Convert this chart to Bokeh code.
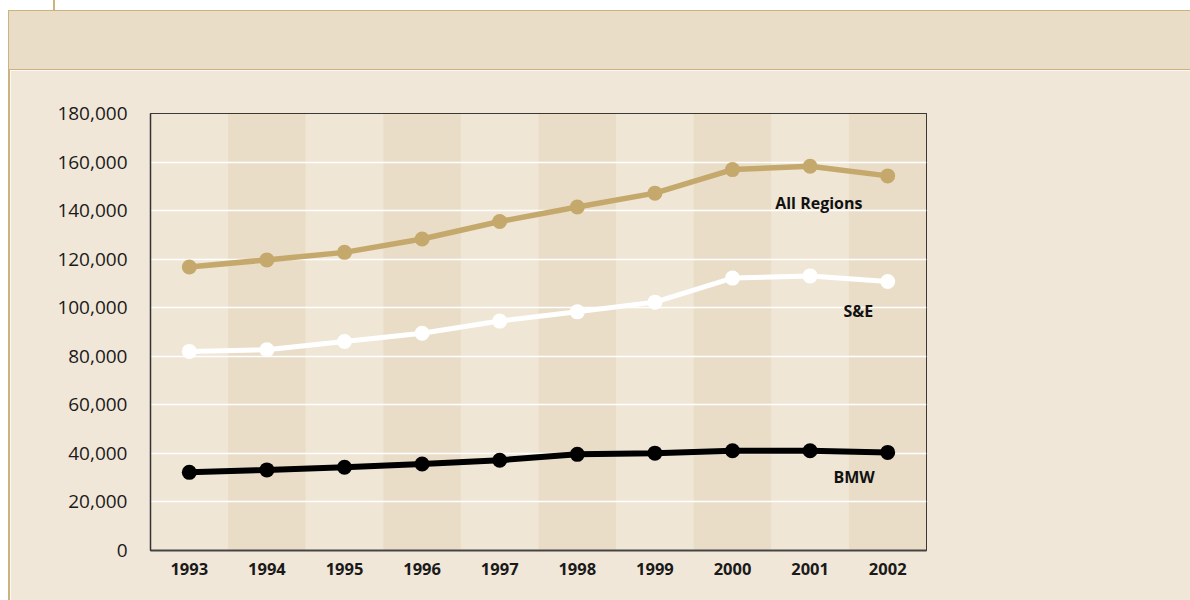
from bokeh.plotting import figure
from bokeh.models import Div, FixedTicker, NumeralTickFormatter, Range1d
from bokeh.layouts import column, row
from bokeh.core.properties import value
from bokeh.embed import file_html
from bokeh.resources import INLINE

years = [1993, 1994, 1995, 1996, 1997, 1998, 1999, 2000, 2001, 2002]
all_regions = [116800, 119700, 122800, 128300, 135500, 141500, 147200, 156900, 158300, 154300]
s_and_e = [82000, 82700, 86100, 89500, 94500, 98300, 102300, 112200, 113100, 110800]
bmw = [32200, 33200, 34300, 35600, 37200, 39600, 40100, 41100, 41100, 40400]
y_ticks = [0, 20000, 40000, 60000, 80000, 100000, 120000, 140000, 160000, 180000]
series_names = ["All Regions", "S&E", "BMW"]

PAGE_BG = "#F1E7D8"
HEADER_BG = "#EADDC8"
BORDER = "#CBB27E"
LIGHT = "#F0E6D6"
DARK = "#EADDC8"
TAN = "#C5A96C"

p = figure(width=1180, height=530, output_backend="svg", toolbar_location=None,
           x_range=Range1d(1992.5, 2002.5), y_range=Range1d(0, 180000),
           min_border_left=140, min_border_right=264, min_border_top=43, min_border_bottom=50,
           margin=0)
p.border_fill_color = PAGE_BG
p.background_fill_color = LIGHT
p.outline_line_color = "black"
p.outline_line_width = 1

# alternating column bands
band_colors = [LIGHT if i % 2 == 0 else DARK for i in range(len(years))]
p.vbar(x=years, top=[180000] * len(years), bottom=0, width=1.0,
       fill_color=band_colors, line_color=None, level="image")

p.xgrid.grid_line_color = None
p.ygrid.ticker = FixedTicker(ticks=y_ticks)
p.ygrid.grid_line_color = "white"
p.ygrid.grid_line_width = 1.6

# series
p.line(years, all_regions, line_color=TAN, line_width=5.5)
p.scatter(years, all_regions, size=15, fill_color=TAN, line_color=None)
p.line(years, s_and_e, line_color="white", line_width=5)
p.scatter(years, s_and_e, size=15, fill_color="white", line_color=None)
p.line(years, bmw, line_color="black", line_width=6)
p.scatter(years, bmw, size=15, fill_color="black", line_color=None)

# series labels
label_x = [2000.55, 2001.43, 2001.30]
label_y = [143000, 98800, 30300]
p.text(x=label_x, y=label_y, text=series_names, text_font=value("Open Sans"),
       text_font_style="bold", text_font_size="16px", text_color="#111111",
       text_align="left", text_baseline="middle")

# axes
p.yaxis.ticker = FixedTicker(ticks=y_ticks)
p.yaxis.formatter = NumeralTickFormatter(format="0,0")
p.yaxis.major_tick_line_color = None
p.yaxis.minor_tick_line_color = None
p.yaxis.axis_line_color = "#333333"
p.yaxis.axis_line_width = 1.5
p.yaxis.major_label_standoff = 17
p.yaxis.major_label_text_font = "Open Sans"
p.yaxis.major_label_text_font_size = "19px"
p.yaxis.major_label_text_color = "#1a1a1a"

p.xaxis.ticker = FixedTicker(ticks=years)
p.xaxis.major_tick_line_color = None
p.xaxis.minor_tick_line_color = None
p.xaxis.axis_line_color = "#444444"
p.xaxis.axis_line_width = 2
p.xaxis.major_label_standoff = 6
p.xaxis.major_label_text_font = "Open Sans"
p.xaxis.major_label_text_font_style = "bold"
p.xaxis.major_label_text_font_size = "16.5px"
p.xaxis.major_label_text_color = "#1a1a1a"

def block(w, h, color):
    return Div(text="", width=w, height=h, margin=0, styles={"background-color": color})

top_strip = row(block(53, 10, "white"), block(2, 10, BORDER), block(1135, 10, "white"),
                spacing=0, margin=0)
header = Div(text="", width=1182, height=60, margin=0,
             styles={"background-color": HEADER_BG,
                     "border-top": "1.5px solid " + BORDER,
                     "border-bottom": "1.5px solid " + BORDER,
                     "border-left": "1.5px solid " + BORDER,
                     "box-sizing": "border-box"})
body = column(header, row(block(2, 530, BORDER), p, spacing=0, margin=0), spacing=0, margin=0)
main = row(block(8, 590, "white"), body, spacing=0, margin=0)
layout = column(top_strip, main, spacing=0, margin=0)

open("out.html", "w").write(file_html(layout, INLINE))
